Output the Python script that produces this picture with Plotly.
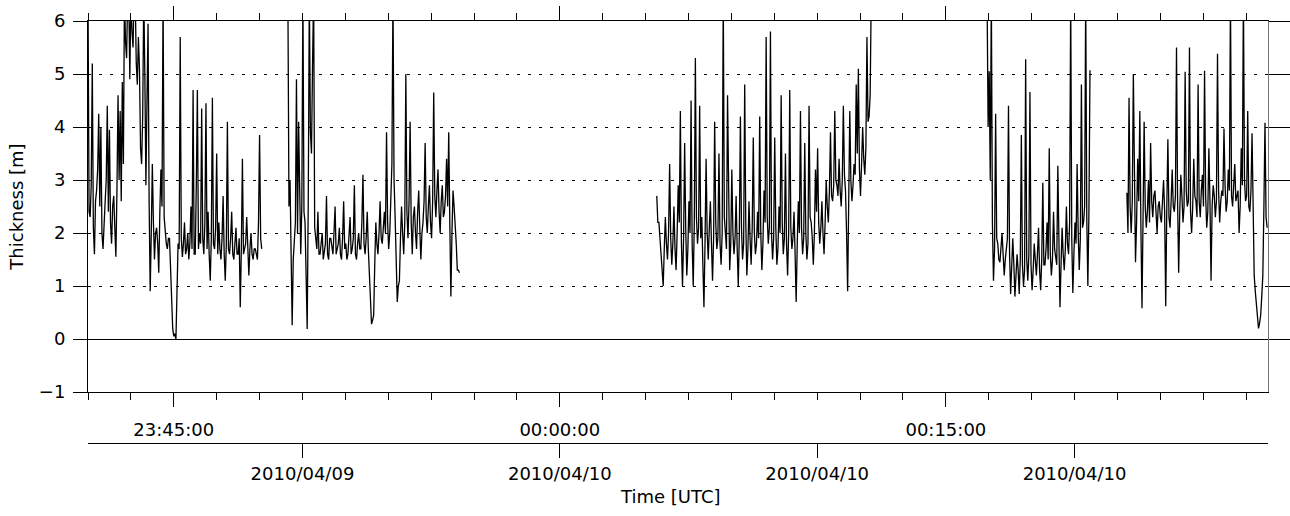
import pandas as pd
import plotly.graph_objects as go

# ---- data (thickness in m, regular samples; values above 6 are off-scale) ----
seg1_time = ("2010-04-09 23:41:40", "2010-04-09 23:48:25")
seg1_vals = [6.5, 2.4, 2.3, 2.9, 5.2, 2.1, 1.6, 2.6, 2.8, 3.2, 4.25, 2.5, 4.0, 2.0, 1.7, 2.3,
             2.6, 3.0, 4.4, 2.4, 3.95, 2.2, 1.8, 2.5, 2.7, 2.1, 1.55, 2.8, 4.6, 3.0, 4.3, 2.6,
             4.85, 3.3, 6.5, 5.6, 5.3, 6.5, 6.5, 4.9, 6.5, 5.8, 5.5, 6.5, 6.5, 5.2, 4.8, 5.7,
             5.1, 3.6, 3.3, 4.2, 6.5, 5.0, 2.9, 4.5, 5.95, 2.6, 0.9, 2.0, 3.3, 2.2, 1.5, 2.0,
             2.1, 1.8, 1.25, 2.4, 3.2, 2.5, 6.5, 2.3, 2.0, 1.8, 1.7, 1.9, 1.9, 1.2, 0.6, 0.2,
             0.05, 0.1, 0.0, 0.9, 1.8, 1.7, 5.7, 1.9, 1.55, 1.8, 2.2, 1.6, 1.7, 2.0, 1.5, 1.8,
             2.5, 1.7, 4.7, 1.6, 1.6, 2.9, 4.7, 1.7, 2.0, 1.8, 4.35, 1.9, 1.6, 2.2, 4.45, 1.7,
             2.4, 1.6, 1.1, 1.9, 4.55, 1.8, 1.7, 2.1, 3.5, 1.6, 2.2, 1.7, 1.5, 1.9, 2.7, 1.6,
             1.1, 1.8, 4.1, 1.7, 1.6, 1.9, 2.4, 1.6, 1.5, 1.8, 2.1, 1.6, 1.6, 1.9, 0.6, 1.7,
             3.4, 1.6, 1.7, 1.8, 2.3, 1.6, 1.2, 1.7, 2.0, 1.6, 1.5, 1.7, 1.7, 1.6, 1.5, 2.2,
             3.85, 1.9, 1.7]

seg2_time = ("2010-04-09 23:49:26", "2010-04-09 23:56:06")
seg2_vals = [6.5, 2.5, 3.0, 1.6, 0.26, 1.5, 1.9, 2.2, 4.9, 2.0, 4.1, 2.3, 1.6, 2.5, 6.5, 2.4,
             2.2, 1.2, 0.19, 2.6, 6.5, 3.9, 3.5, 5.2, 6.5, 2.1, 1.8, 1.7, 2.4, 1.6, 1.6, 1.9,
             2.0, 1.5, 1.7, 1.8, 2.7, 1.6, 1.5, 1.9, 1.9, 1.7, 1.6, 2.0, 2.5, 1.6, 1.7, 1.8,
             2.1, 1.6, 1.5, 1.9, 2.6, 1.7, 1.8, 1.5, 1.6, 2.0, 2.3, 1.6, 1.7, 1.9, 2.9, 1.6,
             1.5, 1.8, 2.0, 1.7, 1.7, 2.2, 3.1, 1.8, 1.6, 1.9, 2.4, 1.7, 1.3, 0.7, 0.28, 0.35,
             0.45, 1.4, 2.2, 1.8, 1.6, 2.0, 2.6, 1.9, 1.8, 2.1, 2.4, 2.0, 3.9, 2.2, 1.7, 2.0,
             2.5, 3.3, 6.5, 3.0, 2.3, 1.6, 0.7, 1.0, 1.1, 1.9, 2.5, 2.0, 1.6, 2.2, 5.0, 2.4,
             1.9, 2.6, 4.1, 2.2, 1.6, 2.3, 2.5, 2.0, 1.7, 2.4, 2.8, 2.1, 1.5, 2.0, 2.2, 2.6,
             3.7, 2.3, 2.0, 2.5, 2.9, 2.2, 1.9, 2.6, 4.65, 2.7, 2.3, 2.8, 3.2, 2.4, 2.0, 2.6,
             2.9, 2.3, 2.4, 2.7, 3.4, 2.5, 3.9, 2.2, 0.8, 2.0, 2.8, 2.5, 2.2, 1.8, 1.3, 1.3,
             1.25]

seg3_time = ("2010-04-10 00:03:46", "2010-04-10 00:12:06")
seg3_vals = [2.7, 2.2, 2.2, 1.9, 1.6, 1.3, 1.0, 1.7, 2.3, 1.8, 1.5, 2.0, 3.3, 1.9, 1.4, 1.8,
             2.5, 1.7, 1.3, 2.0, 2.9, 2.2, 4.3, 1.8, 1.0, 1.9, 3.7, 2.1, 1.2, 1.7, 2.6, 2.0,
             4.5, 1.8, 1.0, 2.2, 5.3, 2.3, 1.8, 2.1, 4.4, 1.9, 2.3, 1.4, 0.6, 1.8, 3.4, 2.0,
             1.5, 2.1, 2.6, 1.8, 1.1, 1.9, 4.1, 2.2, 1.7, 1.9, 3.5, 1.8, 1.4, 2.0, 6.5, 2.3,
             1.9, 1.7, 4.6, 2.1, 1.3, 1.8, 3.2, 2.0, 1.6, 1.9, 2.7, 1.7, 1.0, 2.0, 4.2, 2.1,
             1.5, 1.8, 4.8, 2.2, 1.2, 1.7, 2.6, 1.9, 1.4, 2.1, 3.8, 2.0, 1.6, 1.8, 2.4, 1.9,
             4.2, 2.0, 1.3, 1.8, 2.8, 2.2, 5.7, 2.3, 1.8, 2.1, 5.8, 2.0, 1.5, 1.9, 3.8, 2.1,
             1.4, 1.7, 2.5, 2.0, 4.6, 2.2, 1.6, 1.9, 3.5, 1.8, 1.2, 2.0, 4.7, 2.1, 1.7, 1.9,
             2.4, 1.6, 0.7, 1.8, 2.6, 2.0, 4.3, 2.1, 1.6, 1.9, 3.7, 2.0, 1.5, 1.8, 4.4, 2.3,
             2.2, 1.9, 1.4, 2.0, 3.2, 2.4, 3.6, 2.2, 1.8, 2.1, 2.6, 2.0, 1.6, 2.2, 3.0, 2.5,
             2.2, 2.8, 3.9, 2.7, 2.6, 2.9, 4.3, 3.0, 2.9, 2.7, 3.4, 2.8, 2.5, 3.0, 4.4, 3.1,
             2.8, 2.0, 0.9, 2.6, 4.3, 3.0, 2.6, 2.9, 3.3, 3.1, 4.8, 3.5, 5.1, 3.2, 2.7, 3.3,
             4.0, 3.4, 3.1, 3.6, 5.7, 4.1, 4.2, 4.6, 6.5]

seg4_time = ("2010-04-10 00:16:36", "2010-04-10 00:20:36")
seg4_vals = [6.5, 4.0, 5.05, 3.0, 6.5, 2.2, 1.1, 1.7, 4.25, 1.9, 1.8, 1.5, 1.45, 1.7, 2.0, 1.6,
             1.2, 1.5, 1.7, 1.9, 4.4, 1.6, 0.85, 1.3, 1.9, 1.4, 0.8, 1.2, 1.6, 1.3, 0.85, 1.5,
             3.85, 1.4, 1.0, 1.3, 5.28, 1.5, 1.1, 1.6, 4.66, 1.4, 0.92, 1.3, 1.8, 1.5, 1.2, 1.6,
             2.1, 1.3, 0.92, 1.5, 2.95, 1.4, 1.4, 1.7, 2.2, 1.5, 3.6, 1.6, 1.2, 1.5, 2.4, 1.7,
             1.5, 1.4, 3.27, 1.6, 0.6, 1.4, 2.1, 1.6, 1.3, 1.7, 2.5, 1.8, 1.6, 2.2, 6.5, 1.9,
             0.87, 1.6, 2.2, 1.8, 3.3, 2.0, 1.3, 1.9, 4.8, 2.1, 2.2, 2.5, 6.5, 2.3, 1.0, 2.4,
             5.07]

seg5_time = ("2010-04-10 00:22:02", "2010-04-10 00:27:29")
seg5_vals = [2.76, 2.0, 4.55, 2.5, 2.0, 2.6, 5.0, 2.4, 1.45, 2.2, 3.4, 2.6, 4.3, 2.1, 0.58, 2.3,
             4.1, 2.5, 2.1, 2.4, 3.0, 2.2, 3.7, 2.6, 2.3, 2.7, 2.8, 2.4, 2.0, 2.5, 2.6, 2.3,
             2.2, 2.6, 3.0, 2.4, 0.62, 2.5, 3.77, 2.3, 2.1, 2.6, 3.2, 2.5, 2.4, 2.7, 5.5, 2.6,
             1.25, 2.4, 3.1, 2.7, 2.2, 2.5, 5.04, 2.8, 2.5, 2.6, 5.5, 2.4, 2.0, 2.5, 3.4, 2.7,
             2.6, 2.3, 4.8, 2.6, 2.3, 2.8, 3.1, 2.5, 5.06, 2.7, 2.1, 2.4, 3.6, 2.6, 1.1, 2.5,
             2.9, 2.7, 2.3, 2.6, 5.38, 2.8, 2.2, 2.6, 2.8, 2.7, 3.97, 2.9, 2.4, 2.6, 3.2, 2.8,
             6.5, 2.7, 2.5, 2.9, 3.3, 2.6, 2.7, 2.8, 2.0, 2.5, 3.6, 2.9, 6.5, 3.0, 2.6, 2.7,
             4.3, 2.5, 2.4, 2.8, 3.88, 2.2, 1.2, 0.9, 0.6, 0.4, 0.2, 0.3, 0.45, 0.8, 1.2, 2.5,
             4.08, 2.3, 2.1]

segments = [(seg1_time, seg1_vals), (seg2_time, seg2_vals), (seg3_time, seg3_vals),
            (seg4_time, seg4_vals), (seg5_time, seg5_vals)]

x_range = ["2010-04-09 23:41:40", "2010-04-10 00:27:31"]
time_tick0 = "2010-04-09 23:45:00"
date_tick_vals = ["2010-04-09 23:50:00", "2010-04-10 00:00:00",
                  "2010-04-10 00:10:00", "2010-04-10 00:20:00"]
date_tick_text = ["2010/04/09", "2010/04/10", "2010/04/10", "2010/04/10"]
y_ticks = [-1, 0, 1, 2, 3, 4, 5, 6]
y_ticks_right = [0, 1, 2, 3, 4, 5, 6]

FONT = "DejaVu Sans"
fig = go.Figure()
for (t0, t1), vals in segments:
    t = pd.date_range(start=t0, end=t1, periods=len(vals))
    fig.add_trace(go.Scatter(x=t, y=vals, mode="lines",
                             line=dict(color="black", width=1.3),
                             showlegend=False, hoverinfo="skip"))

# invisible helper traces for the extra axes
fig.add_trace(go.Scatter(x=[x_range[0]], y=[0], xaxis="x2", yaxis="y",
                         mode="markers", marker=dict(opacity=0), showlegend=False, hoverinfo="skip"))
fig.add_trace(go.Scatter(x=[x_range[0]], y=[0], xaxis="x", yaxis="y2",
                         mode="markers", marker=dict(opacity=0), showlegend=False, hoverinfo="skip"))

plot_h = 516 - 21 - 73
ydom = [51 / plot_h, 1]

fig.update_layout(
    width=1290, height=516,
    margin=dict(l=88, r=22, t=21, b=73, autoexpand=False),
    paper_bgcolor="white", plot_bgcolor="white",
    font=dict(family=FONT, size=18, color="black"),
    xaxis=dict(
        type="date", range=x_range, anchor="y", automargin=False,
        tick0=time_tick0, dtick=900000, tickformat="%H:%M:%S",
        ticks="outside", ticklen=14, tickwidth=1, tickcolor="black",
        minor=dict(tick0=time_tick0, dtick=100000, ticks="outside", ticklen=7,
                   tickwidth=1, tickcolor="black", showgrid=False),
        showline=True, linecolor="black", linewidth=1, mirror="ticks",
        showgrid=False, zeroline=False, ticklabelstandoff=7,
        tickfont=dict(family=FONT, size=18, color="black"),
    ),
    xaxis2=dict(
        type="date", range=x_range, overlaying="x", anchor="free", position=0, side="bottom",
        automargin=False,
        tickmode="array", tickvals=date_tick_vals, ticktext=date_tick_text,
        ticks="outside", ticklen=14, tickwidth=1, tickcolor="black",
        showline=True, linecolor="black", linewidth=1,
        showgrid=False, zeroline=False, ticklabelstandoff=0,
        tickfont=dict(family=FONT, size=18, color="black"),
    ),
    yaxis=dict(
        range=[-1, 6], domain=ydom, tickmode="array", tickvals=y_ticks, automargin=False,
        ticks="outside", ticklen=14, tickwidth=1, tickcolor="black",
        showline=True, linecolor="black", linewidth=1,
        showgrid=True, gridcolor="black", gridwidth=1, griddash="3px,8px",
        zeroline=True, zerolinecolor="black", zerolinewidth=1,
        ticklabelstandoff=4,
        tickfont=dict(family=FONT, size=18, color="black"),
        title=dict(text="Thickness [m]", font=dict(family=FONT, size=18, color="black"),
                   standoff=10),
    ),
    yaxis2=dict(
        range=[-1, 6], domain=ydom, overlaying="y", side="right", anchor="x", automargin=False,
        tickmode="array", tickvals=y_ticks_right, showticklabels=False,
        ticks="outside", ticklen=22, tickwidth=1, tickcolor="black",
        showline=True, linecolor="#777777", linewidth=1,
        showgrid=False, zeroline=False,
    ),
    annotations=[dict(text="Time [UTC]", xref="paper", yref="paper",
                      x=(670 - 88) / 1180, y=(443 - 497) / plot_h,
                      xanchor="center", yanchor="middle", showarrow=False,
                      font=dict(family=FONT, size=18, color="black"))],
)

fig.write_html("out.html")
